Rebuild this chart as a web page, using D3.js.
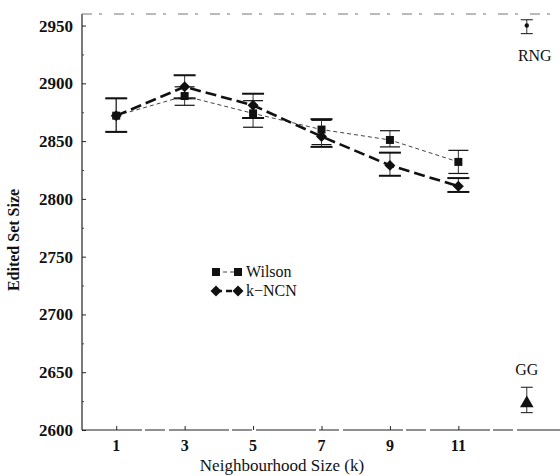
<!DOCTYPE html>
<html>
<head>
<meta charset="utf-8">
<script src="https://cdn.jsdelivr.net/npm/d3@7"></script>
<style>
  body { margin: 0; background: #fff; }
  svg text { font-family: "Liberation Serif", "DejaVu Serif", serif; fill: #111; }
</style>
</head>
<body>
<div id="chart"></div>
<script>
// neighbourhood sizes and edited set sizes
const kValues = [1, 3, 5, 7, 9, 11];
const wilsonMean = [2872, 2889, 2874, 2860, 2851, 2832];
const wilsonLow = [2858, 2881, 2862, 2847, 2845, 2822];
const wilsonHigh = [2887, 2897, 2885, 2868, 2859, 2842];
const kncnMean = [2872, 2897, 2881, 2854, 2829, 2811];
const kncnLow = [2858, 2887, 2870, 2845, 2820, 2806];
const kncnHigh = [2887, 2907, 2891, 2869, 2840, 2818];

// the two graph based editors shown on the right
const graphNames = ["RNG", "GG"];
const graphX = [13, 13];
const graphMean = [2950, 2623];
const graphLow = [2943, 2615];
const graphHigh = [2955, 2637];

const yTicks = [2600, 2650, 2700, 2750, 2800, 2850, 2900, 2950];
const yMinorTicks = [2625, 2675, 2725, 2775, 2825, 2875, 2925];

const width = 560, height = 476;
const margin = { top: 14, right: 0, bottom: 46, left: 82 };

const svg = d3.select("#chart").append("svg")
  .attr("width", width)
  .attr("height", height);

const x = d3.scaleLinear().domain([0, 14]).range([margin.left, 561]);
const y = d3.scaleLinear().domain([2600, 2960]).range([height - margin.bottom, margin.top]);

// frame: left and bottom axis lines, faint dashed top edge
svg.append("line")
  .attr("x1", x(0)).attr("x2", x(0))
  .attr("y1", y(2960)).attr("y2", y(2600))
  .attr("stroke", "#222").attr("stroke-width", 1.2);
svg.append("line")
  .attr("x1", x(0)).attr("x2", width)
  .attr("y1", y(2600)).attr("y2", y(2600))
  .attr("stroke", "#222").attr("stroke-width", 1.2)
  .attr("stroke-dasharray", "60,3,20,4");
svg.append("line")
  .attr("x1", x(0)).attr("x2", width)
  .attr("y1", y(2960)).attr("y2", y(2960))
  .attr("stroke", "#777").attr("stroke-width", 1)
  .attr("stroke-dasharray", "10,7,3,12");

// y axis: ticks inward, labels on the left
svg.append("g")
  .attr("transform", "translate(" + x(0) + ",0)")
  .call(d3.axisRight(y).tickValues(yTicks).tickSize(4).tickFormat(""))
  .call(g => g.select(".domain").remove())
  .call(g => g.selectAll("line").attr("stroke", "#222"));
svg.append("g")
  .attr("transform", "translate(" + x(0) + ",0)")
  .call(d3.axisRight(y).tickValues(yMinorTicks).tickSize(2).tickFormat(""))
  .call(g => g.select(".domain").remove())
  .call(g => g.selectAll("line").attr("stroke", "#444"));

svg.selectAll(".ylab")
  .data(yTicks)
  .enter().append("text")
  .attr("class", "ylab")
  .attr("x", 73)
  .attr("y", d => y(d) + 6)
  .attr("text-anchor", "end")
  .style("font-size", "17px")
  .style("font-weight", "bold")
  .text(d => d);

// x axis: ticks inward, labels below
svg.append("g")
  .attr("transform", "translate(0," + y(2600) + ")")
  .call(d3.axisTop(x).tickValues(kValues).tickSize(4).tickFormat(""))
  .call(g => g.select(".domain").remove())
  .call(g => g.selectAll("line").attr("stroke", "#222"));

svg.selectAll(".xlab")
  .data(kValues)
  .enter().append("text")
  .attr("class", "xlab")
  .attr("x", d => x(d))
  .attr("y", y(2600) + 21)
  .attr("text-anchor", "middle")
  .style("font-size", "16px")
  .style("font-weight", "bold")
  .text(d => d);

svg.append("text")
  .attr("x", 282)
  .attr("y", 471)
  .attr("text-anchor", "middle")
  .style("font-size", "17px")
  .text("Neighbourhood Size (k)");

svg.append("text")
  .attr("transform", "translate(19,240) rotate(-90)")
  .attr("text-anchor", "middle")
  .style("font-size", "16px")
  .style("font-weight", "bold")
  .text("Edited Set Size");

// error bars
function errorBars(xs, lo, hi, capW, thick) {
  const g = svg.append("g");
  xs.forEach(function(k, i) {
    g.append("line")
      .attr("x1", x(k)).attr("x2", x(k))
      .attr("y1", y(lo[i])).attr("y2", y(hi[i]))
      .attr("stroke", "#333").attr("stroke-width", 1);
    [lo[i], hi[i]].forEach(function(v) {
      g.append("line")
        .attr("x1", x(k) - capW / 2).attr("x2", x(k) + capW / 2)
        .attr("y1", y(v)).attr("y2", y(v))
        .attr("stroke", "#111").attr("stroke-width", thick);
    });
  });
}
errorBars(kValues, wilsonLow, wilsonHigh, 20, 1.2);
errorBars(kValues, kncnLow, kncnHigh, 22, 2);
errorBars(graphX, graphLow, graphHigh, 12, 1);

// lines
const line = d3.line()
  .x(d => x(d[0]))
  .y(d => y(d[1]));

svg.append("path")
  .datum(kValues.map((k, i) => [k, wilsonMean[i]]))
  .attr("fill", "none")
  .attr("stroke", "#444")
  .attr("stroke-width", 1)
  .attr("stroke-dasharray", "4,3")
  .attr("d", line);

svg.append("path")
  .datum(kValues.map((k, i) => [k, kncnMean[i]]))
  .attr("fill", "none")
  .attr("stroke", "#111")
  .attr("stroke-width", 2.6)
  .attr("stroke-dasharray", "11,5")
  .attr("d", line);

// markers
const square = d3.symbol().type(d3.symbolSquare).size(64);
const diamond = d3.symbol().type(d3.symbolSquare).size(60);
const triangle = d3.symbol().type(d3.symbolTriangle).size(80);

svg.selectAll(".sq")
  .data(kValues)
  .enter().append("path")
  .attr("class", "sq")
  .attr("transform", (d, i) => "translate(" + x(d) + "," + y(wilsonMean[i]) + ")")
  .attr("d", square)
  .attr("fill", "#111");

svg.selectAll(".dm")
  .data(kValues)
  .enter().append("path")
  .attr("class", "dm")
  .attr("transform", (d, i) => "translate(" + x(d) + "," + y(kncnMean[i]) + ") rotate(45)")
  .attr("d", diamond)
  .attr("fill", "#111");

svg.append("circle")
  .attr("cx", x(graphX[0])).attr("cy", y(graphMean[0]))
  .attr("r", 2.2).attr("fill", "#111");
svg.append("path")
  .attr("transform", "translate(" + x(graphX[1]) + "," + y(graphMean[1]) + ")")
  .attr("d", triangle)
  .attr("fill", "#111");

svg.append("text")
  .attr("x", x(graphX[0]) + 8).attr("y", y(graphMean[0]) + 35)
  .attr("text-anchor", "middle")
  .style("font-size", "16px")
  .text(graphNames[0]);
svg.append("text")
  .attr("x", x(graphX[1])).attr("y", y(graphMean[1]) - 28)
  .attr("text-anchor", "middle")
  .style("font-size", "16px")
  .text(graphNames[1]);

// legend
const legend = svg.append("g").attr("transform", "translate(216,272)");
legend.append("line")
  .attr("x1", 0).attr("x2", 22).attr("y1", 0).attr("y2", 0)
  .attr("stroke", "#444").attr("stroke-width", 1).attr("stroke-dasharray", "4,3");
legend.append("path").attr("d", square).attr("fill", "#111");
legend.append("path").attr("transform", "translate(22,0)").attr("d", square).attr("fill", "#111");
legend.append("text").attr("x", 30).attr("y", 5).style("font-size", "16px").text("Wilson");

legend.append("line")
  .attr("x1", 0).attr("x2", 22).attr("y1", 19).attr("y2", 19)
  .attr("stroke", "#111").attr("stroke-width", 2.6).attr("stroke-dasharray", "6,4");
legend.append("path").attr("transform", "translate(0,19) rotate(45)").attr("d", diamond).attr("fill", "#111");
legend.append("path").attr("transform", "translate(22,19) rotate(45)").attr("d", diamond).attr("fill", "#111");
legend.append("text").attr("x", 30).attr("y", 24).style("font-size", "16px").text("k\u2212NCN");
</script>
</body>
</html>
